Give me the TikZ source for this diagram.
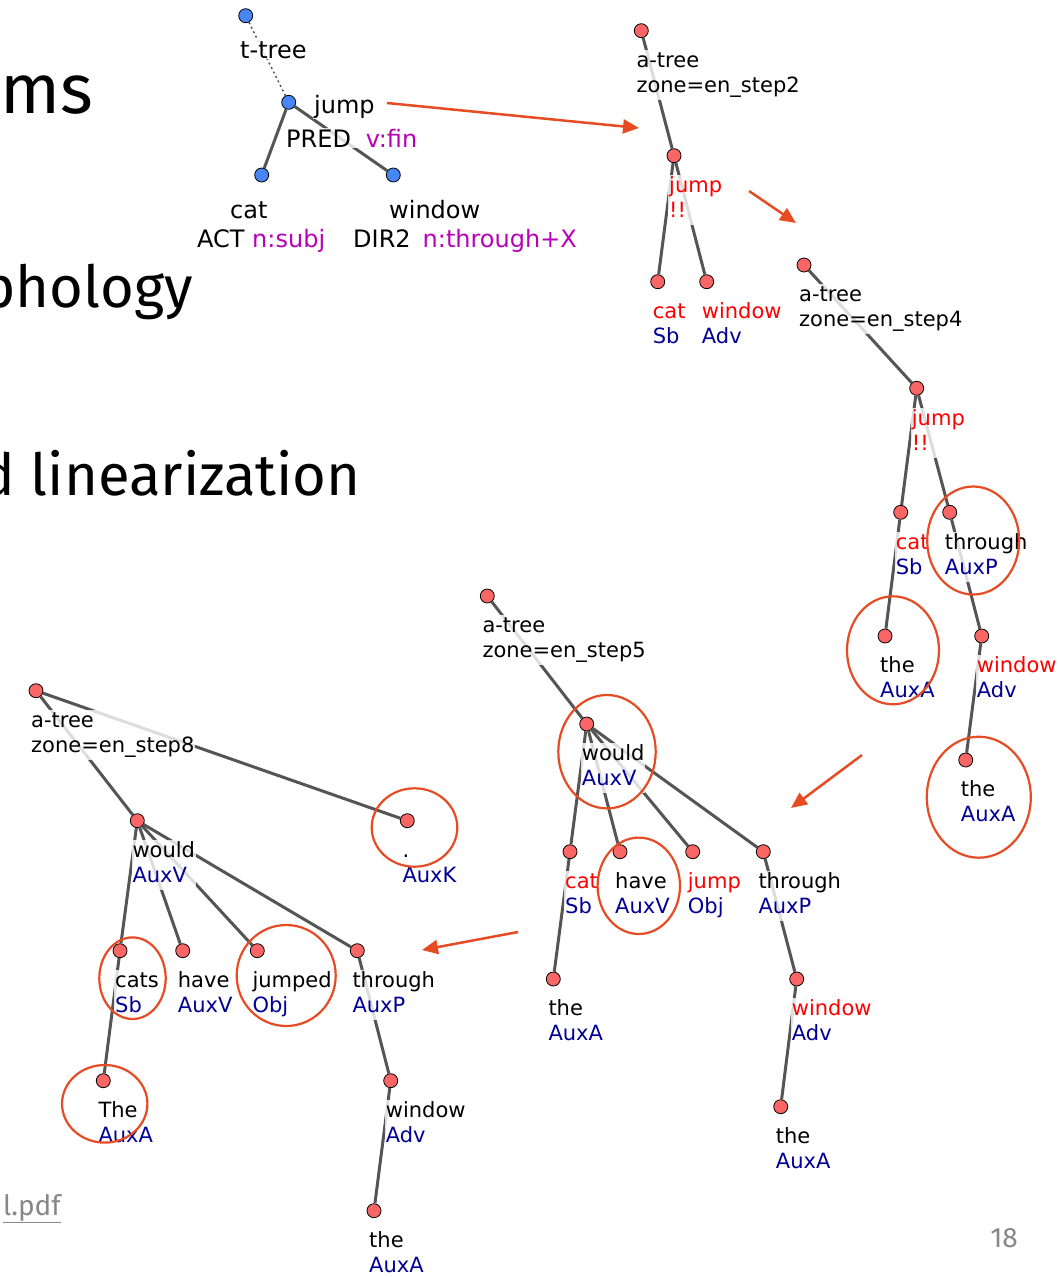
\documentclass[tikz,border=0pt]{standalone}
\usepackage{fontspec}
\setmainfont{Fira Sans}
\newfontfamily\treefont{DejaVu Sans}
\usetikzlibrary{arrows.meta}

\definecolor{nodered}{RGB}{250,102,102}
\definecolor{nodeblue}{RGB}{70,135,245}
\definecolor{edgegray}{RGB}{85,85,85}
\definecolor{hlred}{RGB}{230,75,35}
\definecolor{lemred}{RGB}{255,0,0}
\definecolor{afunblue}{RGB}{0,0,150}
\definecolor{tagpurple}{RGB}{185,0,185}
\definecolor{slidegray}{RGB}{135,135,135}

\newcommand{\twolines}[2]{\strut#1\\\strut#2}
\newcommand{\lem}[1]{\textcolor{lemred}{#1}}
\newcommand{\afun}[1]{\textcolor{afunblue}{#1}}

\tikzset{
  anode/.style={circle, draw=black, fill=nodered, line width=0.8pt, minimum size=14pt, inner sep=0pt},
  tnode/.style={anode, fill=nodeblue},
  dep/.style={draw=edgegray, line width=3pt},
  lab/.style={anchor=north west, inner xsep=1pt, inner ysep=0pt, align=left, fill=white, fill opacity=0.8, text opacity=1, font=\treefont\fontsize{21}{25}\selectfont},
  tlab/.style={anchor=base west, inner sep=1pt, fill=white, fill opacity=0.8, text opacity=1, font=\treefont\fontsize{24}{29}\selectfont},
  circled/.style={draw=hlred, line width=2.2pt},
  flow/.style={draw=hlred, line width=2.5pt, -{Triangle[length=16pt,width=14pt]}},
  slidetext/.style={anchor=base east, inner sep=0pt, font=\fontsize{58}{70}\selectfont},
}

\begin{document}
\begin{tikzpicture}[x=1pt,y=-1pt]
\useasboundingbox (0,0) rectangle (1059,1277);
\clip (0,0) rectangle (1059,1277);

% slide behind the trees
\node[slidetext, font=\fontsize{70}{84}\selectfont] (s1) at (93,113) {ms};
\node[slidetext] (s2) at (193,307) {phology};
\node[slidetext] (s3) at (361,495) {d linearization};
\node[slidetext, font=\fontsize{28}{34}\selectfont, text=slidegray] (s4) at (61,1215) {\underline{l.pdf}};
\node[slidetext, font=\fontsize{28}{34}\selectfont, text=slidegray] (s5) at (1018,1247) {18};

% t-tree
\node[tnode] (tr) at (245.7,15.7) {};
\node[tnode] (tj) at (288.7,102.3) {};
\node[tnode] (tc) at (261.7,175) {};
\node[tnode] (tw) at (393.3,175) {};

\draw[edgegray, line width=1.5pt, dash pattern=on 2pt off 3pt] (tr) -- (tj);
\draw[dep] (tj) -- (tc);
\draw[dep] (tj) -- (tw);

\node[tlab] (trl) at (239,58) {t-tree};
\node[tlab] (tjl) at (313,113) {jump};
\node[tlab] (tjf) at (285,147) {PRED\hspace{15pt}\textcolor{tagpurple}{v:fin}};
\node[tlab] (tcl) at (229,218) {cat};
\node[tlab] (tcf) at (196,247) {ACT \textcolor{tagpurple}{n:subj}};
\node[tlab] (twl) at (388,218) {window};
\node[tlab] (twf) at (352,247) {DIR2\hspace{12pt}\textcolor{tagpurple}{n:through+X}};

% a-tree, step 2
\node[anode] (a2r) at (641.3,30.7) {};
\node[anode] (a2j) at (674,155.7) {};
\node[anode] (a2c) at (657.7,281.7) {};
\node[anode] (a2w) at (706.7,281.7) {};

\draw[dep] (a2r) -- (a2j);
\draw[dep] (a2j) -- (a2c);
\draw[dep] (a2j) -- (a2w);

\node[lab] (a2rl) at ([shift={(-6,19)}]a2r) {\twolines{a-tree}{zone=en\_step2}};
\node[lab] (a2jl) at ([shift={(-6,19)}]a2j) {\twolines{\lem{jump}}{\lem{!!}}};
\node[lab] (a2cl) at ([shift={(-6,19)}]a2c) {\twolines{\lem{cat}}{\afun{Sb}}};
\node[lab] (a2wl) at ([shift={(-6,19)}]a2w) {\twolines{\lem{window}}{\afun{Adv}}};

% a-tree, step 4
\node[anode] (a4r) at (804,265) {};
\node[anode] (a4j) at (916.7,388.3) {};
\node[anode] (a4c) at (900.7,512.3) {};
\node[anode] (a4t) at (949.7,512.3) {};
\node[anode] (a4d) at (885,636) {};
\node[anode] (a4w) at (981.7,636) {};
\node[anode] (a4e) at (965.7,760) {};

\draw[dep] (a4r) -- (a4j);
\draw[dep] (a4j) -- (a4c);
\draw[dep] (a4j) -- (a4t);
\draw[dep] (a4c) -- (a4d);
\draw[dep] (a4t) -- (a4w);
\draw[dep] (a4w) -- (a4e);

\node[lab] (a4rl) at ([shift={(-6,19)}]a4r) {\twolines{a-tree}{zone=en\_step4}};
\node[lab] (a4jl) at ([shift={(-6,19)}]a4j) {\twolines{\lem{jump}}{\lem{!!}}};
\node[lab] (a4cl) at ([shift={(-6,19)}]a4c) {\twolines{\lem{cat}}{\afun{Sb}}};
\node[lab] (a4tl) at ([shift={(-6,19)}]a4t) {\twolines{through}{\afun{AuxP}}};
\node[lab] (a4dl) at ([shift={(-6,19)}]a4d) {\twolines{the}{\afun{AuxA}}};
\node[lab] (a4wl) at ([shift={(-6,19)}]a4w) {\twolines{\lem{window}}{\afun{Adv}}};
\node[lab] (a4el) at ([shift={(-6,19)}]a4e) {\twolines{the}{\afun{AuxA}}};

% a-tree, step 5
\node[anode] (a5r) at (487.3,596) {};
\node[anode] (a5w) at (586.7,724) {};
\node[anode] (a5c) at (570,851.7) {};
\node[anode] (a5h) at (620,851.7) {};
\node[anode] (a5j) at (692.7,851.7) {};
\node[anode] (a5t) at (763.3,851.7) {};
\node[anode] (a5d) at (553.3,979) {};
\node[anode] (a5n) at (796.7,979) {};
\node[anode] (a5e) at (780.7,1106.7) {};

\draw[dep] (a5r) -- (a5w);
\draw[dep] (a5w) -- (a5c);
\draw[dep] (a5w) -- (a5h);
\draw[dep] (a5w) -- (a5j);
\draw[dep] (a5w) -- (a5t);
\draw[dep] (a5c) -- (a5d);
\draw[dep] (a5t) -- (a5n);
\draw[dep] (a5n) -- (a5e);

\node[lab] (a5rl) at ([shift={(-6,19)}]a5r) {\twolines{a-tree}{zone=en\_step5}};
\node[lab] (a5wl) at ([shift={(-6,19)}]a5w) {\twolines{would}{\afun{AuxV}}};
\node[lab] (a5cl) at ([shift={(-6,19)}]a5c) {\twolines{\lem{cat}}{\afun{Sb}}};
\node[lab] (a5hl) at ([shift={(-6,19)}]a5h) {\twolines{have}{\afun{AuxV}}};
\node[lab] (a5jl) at ([shift={(-6,19)}]a5j) {\twolines{\lem{jump}}{\afun{Obj}}};
\node[lab] (a5tl) at ([shift={(-6,19)}]a5t) {\twolines{through}{\afun{AuxP}}};
\node[lab] (a5dl) at ([shift={(-6,19)}]a5d) {\twolines{the}{\afun{AuxA}}};
\node[lab] (a5nl) at ([shift={(-6,19)}]a5n) {\twolines{\lem{window}}{\afun{Adv}}};
\node[lab] (a5el) at ([shift={(-6,19)}]a5e) {\twolines{the}{\afun{AuxA}}};

% a-tree, step 8
\node[anode] (a8r) at (36,690.7) {};
\node[anode] (a8w) at (137.3,820.7) {};
\node[anode] (a8k) at (407.3,820.7) {};
\node[anode] (a8c) at (120,950.7) {};
\node[anode] (a8h) at (182.7,950.7) {};
\node[anode] (a8j) at (257.3,950.7) {};
\node[anode] (a8t) at (357.3,950.7) {};
\node[anode] (a8d) at (103.3,1080.7) {};
\node[anode] (a8n) at (390.7,1080.7) {};
\node[anode] (a8e) at (374,1210.7) {};

\draw[dep] (a8r) -- (a8w);
\draw[dep] (a8r) -- (a8k);
\draw[dep] (a8w) -- (a8c);
\draw[dep] (a8w) -- (a8h);
\draw[dep] (a8w) -- (a8j);
\draw[dep] (a8w) -- (a8t);
\draw[dep] (a8c) -- (a8d);
\draw[dep] (a8t) -- (a8n);
\draw[dep] (a8n) -- (a8e);

\node[lab] (a8rl) at ([shift={(-6,19)}]a8r) {\twolines{a-tree}{zone=en\_step8}};
\node[lab] (a8wl) at ([shift={(-6,19)}]a8w) {\twolines{would}{\afun{AuxV}}};
\node[lab] (a8kl) at ([shift={(-6,19)}]a8k) {\twolines{.}{\afun{AuxK}}};
\node[lab] (a8cl) at ([shift={(-6,19)}]a8c) {\twolines{cats}{\afun{Sb}}};
\node[lab] (a8hl) at ([shift={(-6,19)}]a8h) {\twolines{have}{\afun{AuxV}}};
\node[lab] (a8jl) at ([shift={(-6,19)}]a8j) {\twolines{jumped}{\afun{Obj}}};
\node[lab] (a8tl) at ([shift={(-6,19)}]a8t) {\twolines{through}{\afun{AuxP}}};
\node[lab] (a8dl) at ([shift={(-6,19)}]a8d) {\twolines{The}{\afun{AuxA}}};
\node[lab] (a8nl) at ([shift={(-6,19)}]a8n) {\twolines{window}{\afun{Adv}}};
\node[lab] (a8el) at ([shift={(-6,19)}]a8e) {\twolines{the}{\afun{AuxA}}};

% highlighted changes
\draw[circled] (973.2,540.5) ellipse [x radius=46, y radius=54];
\draw[circled] (893,650.3) ellipse [x radius=46, y radius=54];
\draw[circled] (978.8,797.2) ellipse [x radius=52, y radius=60.5];
\draw[circled] (607,751.7) ellipse [x radius=48.7, y radius=56.7];
\draw[circled] (638.8,885.8) ellipse [x radius=41.2, y radius=48.2];
\draw[circled] (414.5,827.5) ellipse [x radius=42.8, y radius=39.2];
\draw[circled] (132.5,978.2) ellipse [x radius=33.2, y radius=40.8];
\draw[circled] (286.2,975.5) ellipse [x radius=49.5, y radius=50.5];
\draw[circled] (104.7,1103.8) ellipse [x radius=42.7, y radius=38.8];

% steps
\coordinate (f1s) at (387,103);
\coordinate (f1e) at (639,128);
\coordinate (f2s) at (749,191);
\coordinate (f2e) at (796,223);
\coordinate (f3s) at (862,755);
\coordinate (f3e) at (791,808);
\coordinate (f4s) at (518,932);
\coordinate (f4e) at (422,950);
\draw[flow] (f1s) -- (f1e);
\draw[flow] (f2s) -- (f2e);
\draw[flow] (f3s) -- (f3e);
\draw[flow] (f4s) -- (f4e);
\end{tikzpicture}
\end{document}
